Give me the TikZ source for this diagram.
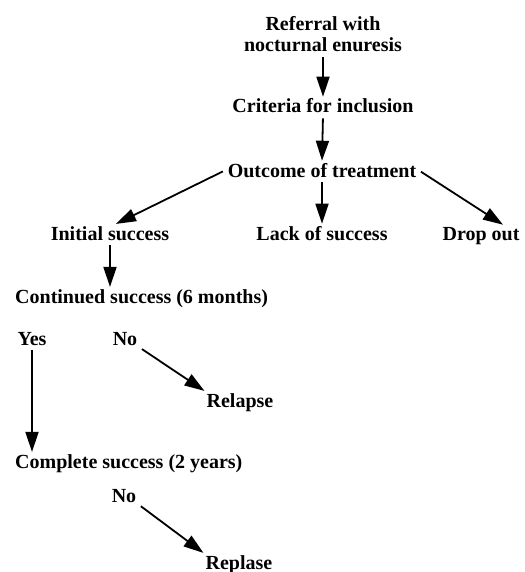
\documentclass[tikz,border=0pt]{standalone}
\usepackage{fontspec}
\setmainfont{Liberation Serif}
\usetikzlibrary{arrows.meta}

\begin{document}
\begin{tikzpicture}[x=1pt, y=-1pt,
	lbl/.style={font=\bfseries\fontsize{20}{21}\selectfont, inner sep=2pt, anchor=base},
	arr/.style={-{Triangle[length=20pt, width=13pt]}, line width=1.8pt, shorten <=3pt}]
	\useasboundingbox (0,0) rectangle (524,572);
	% main chain
	\node[lbl, align=center] (referral) at (323,52) {Referral with\\nocturnal enuresis};
	\node[lbl] (criteria) at (323,113) {Criteria for inclusion};
	\node[lbl] (outcome) at (322,177) {Outcome of treatment};
	\draw[arr] (referral.south) -- (criteria.north);
	\draw[arr] (criteria.south) -- (outcome.north);
	% three outcomes
	\node[lbl] (initial) at (110,240) {Initial success};
	\node[lbl] (lack) at (322,240) {Lack of success};
	\node[lbl] (dropout) at (481,240) {Drop out};
	\draw[arr] (outcome.west) -- ([xshift=6pt]initial.north);
	\draw[arr] (outcome.south) -- (lack.north);
	\draw[arr] (outcome.east) -- ([xshift=22pt]dropout.north);
	% follow up at 6 months
	\node[lbl, anchor=base west] (continued) at (13,303) {Continued success (6 months)};
	\draw[arr] (initial.south) -- (initial.south |- continued.north);
	\node[lbl] (yes) at (32,345) {Yes};
	\node[lbl] (noA) at (125,345) {No};
	\node[lbl] (relapse) at (240,407) {Relapse};
	\draw[arr] (noA.south east) -- (relapse.north west);
	% follow up at 2 years
	\node[lbl, anchor=base west] (complete) at (13,468) {Complete success (2 years)};
	\draw[arr] (yes.south) -- (yes.south |- complete.north);
	\node[lbl] (noB) at (124,502) {No};
	\node[lbl] (replase) at (239,569) {Replase};
	\draw[arr] (noB.south east) -- (replase.north west);
\end{tikzpicture}
\end{document}
